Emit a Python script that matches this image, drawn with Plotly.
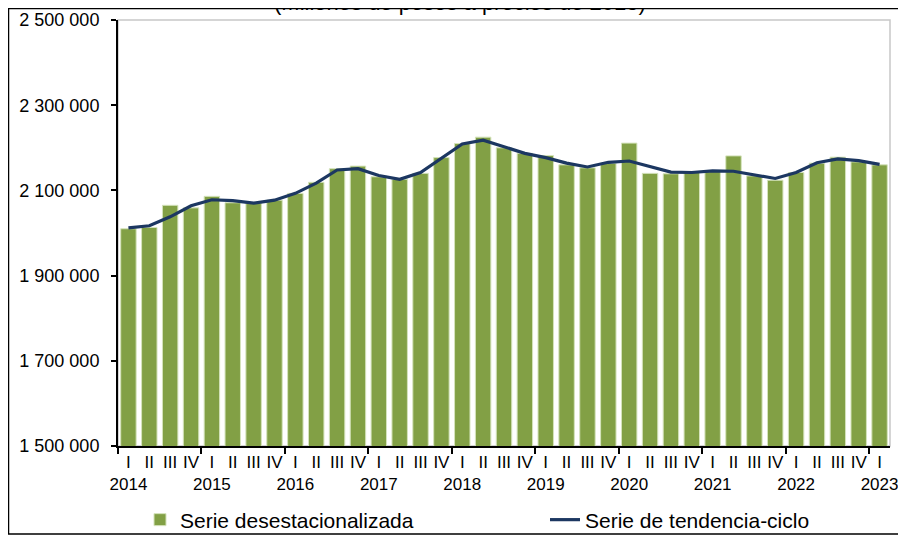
import plotly.graph_objects as go

# ---------------- data ----------------
years = [2014, 2015, 2016, 2017, 2018, 2019, 2020, 2021, 2022, 2023]
quarters = ["I", "II", "III", "IV"]

desestacionalizada = [
    2010000, 2013000, 2065000, 2059000,
    2086000, 2071000, 2070000, 2077000,
    2093000, 2119000, 2151000, 2157000,
    2132000, 2126000, 2140000, 2177000,
    2210000, 2225000, 2200000, 2187000,
    2182000, 2160000, 2153000, 2164000,
    2211000, 2140000, 2139000, 2142000,
    2146000, 2181000, 2134000, 2124000,
    2142000, 2164000, 2178000, 2167000,
    2160000,
]
tendencia_ciclo = [
    2012000, 2017000, 2038000, 2064000,
    2078000, 2076000, 2070000, 2077000,
    2093000, 2117000, 2148000, 2151000,
    2135000, 2126000, 2142000, 2175000,
    2209000, 2218000, 2203000, 2187000,
    2177000, 2164000, 2155000, 2166000,
    2169000, 2156000, 2143000, 2142000,
    2146000, 2145000, 2136000, 2128000,
    2142000, 2165000, 2174000, 2170000,
    2161000,
]
y_ticks = [1500000, 1700000, 1900000, 2100000, 2300000, 2500000]
y_tick_labels = ["1 500 000", "1 700 000", "1 900 000", "2 100 000", "2 300 000", "2 500 000"]
title_text = "(Millones de pesos a precios de 2018)"

# ---------------- build ----------------
n = len(desestacionalizada)
x = list(range(n))
tick_text = []
for i in range(n):
    q = quarters[i % 4]
    if i % 4 == 0:
        tick_text.append(f"{q}<br>{years[i // 4]}")
    else:
        tick_text.append(q)
boundaries = [i - 0.5 for i in range(0, n, 4)]

FONT = "Liberation Sans, Arial, sans-serif"

OFF = 8  # browser body margin
W, H = 906 - OFF, 536 - OFF
# plot area in page pixels
PL, PR, PT, PB = 118, 890, 20, 446
L, R, T, B = PL - OFF, PR - OFF, PT - OFF, PB - OFF
pw, ph = R - L, B - T


def px_x(p):  # page px -> paper
    return (p - OFF - L) / pw


def px_y(p):
    return (B - (p - OFF)) / ph


def cx(p):  # page px -> container fraction
    return (p - OFF) / W


def cy(p):
    return 1 - (p - OFF) / H


fig = go.Figure()
fig.add_trace(go.Bar(
    x=x, y=desestacionalizada, name="Serie desestacionalizada",
    marker=dict(color="#82A045", line=dict(color="#D5E3BC", width=1)),
    width=0.74, legend="legend",
))
fig.add_trace(go.Scatter(
    x=x, y=tendencia_ciclo, name="Serie de tendencia-ciclo", mode="lines",
    line=dict(color="#1C3761", width=3.2), legend="legend2",
))

legend_common = dict(
    orientation="h", xref="container", yref="container",
    xanchor="left", yanchor="middle",
    font=dict(size=21, family=FONT, color="black"),
    bgcolor="rgba(0,0,0,0)",
)
fig.update_layout(
    width=W, height=H,
    margin=dict(l=L, r=W - R, t=T, b=H - B, pad=0, autoexpand=False),
    paper_bgcolor="white", plot_bgcolor="white",
    font=dict(family=FONT, color="black", size=17),
    showlegend=True,
    legend=dict(x=cx(140), y=cy(520), **legend_common),
    legend2=dict(x=cx(545), y=cy(520), **legend_common),
    bargap=0.26,
)

fig.update_xaxes(
    range=[-0.5, n - 0.5], tickmode="array", tickvals=x, ticktext=tick_text,
    tickangle=0, automargin=False,
    ticks="", showline=True, linecolor="black", linewidth=1.5,
    showgrid=False, zeroline=False, tickfont=dict(size=17, family=FONT),
    ticklabelstandoff=0,
    minor=dict(tickmode="array", tickvals=boundaries, ticks="outside",
               ticklen=6, tickcolor="black", tickwidth=1.5, showgrid=False),
)
fig.update_yaxes(
    range=[1500000, 2500000], tickmode="array", tickvals=y_ticks, ticktext=y_tick_labels,
    automargin=False,
    ticks="outside", ticklen=5, tickcolor="black", tickwidth=1.5,
    showline=True, linecolor="black", linewidth=2,
    showgrid=False, zeroline=False, tickfont=dict(size=18, family=FONT),
    ticklabelstandoff=8,
)

# plot-area border (light grey, top and right)
fig.add_shape(type="rect", xref="paper", yref="paper", x0=0, x1=1, y0=0, y1=1,
              line=dict(color="#C8C8C8", width=1.5), layer="below")
# outer chart border
fig.add_shape(type="rect", xref="paper", yref="paper",
              x0=px_x(8.5), x1=px_x(920), y0=px_y(534), y1=px_y(8.5),
              line=dict(color="black", width=1.5))
# title, partially cut off at the top like the reference
fig.add_annotation(text=title_text, xref="paper", yref="paper",
                   x=px_x(459.5), y=px_y(2), xanchor="center", yanchor="middle",
                   showarrow=False, font=dict(size=22, family=FONT, color="black"))

fig.write_html("out.html")
